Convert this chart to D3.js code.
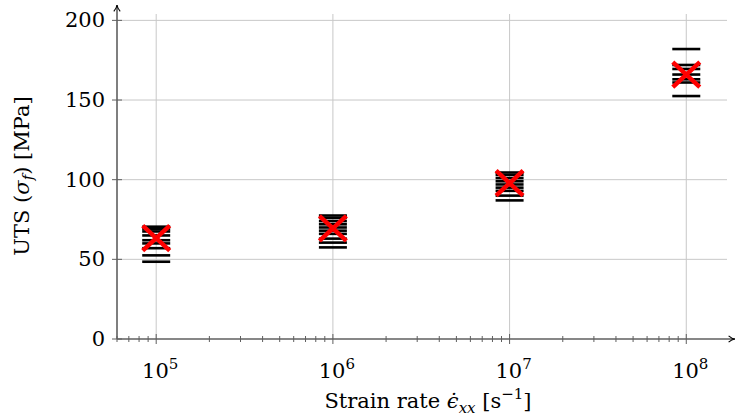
<!DOCTYPE html>
<meta charset="utf-8">
<script src="https://d3js.org/d3.v7.min.js"></script>
<style>
	body{
		margin:0;
		background:#fff;
	}
	text{
		font-family: 'DejaVu Serif', serif;
		font-size:21px;
		fill:#000;
	}
</style>
<div id="chart"></div>
<script>
	// strain rates (s^-1) and the UTS of every run at each rate (MPa)
	var rates = [1e5, 1e6, 1e7, 1e8]
	var utsRate5 = [70.5, 69, 67.5, 65, 62, 60, 57, 52.5, 48.5]
	var utsRate6 = [77.5, 76, 74, 72, 70, 68, 66, 63, 60.5, 57.5]
	var utsRate7 = [104.5, 103, 101, 99, 97, 95, 93, 90, 87]
	var utsRate8 = [182, 172, 169.5, 166, 163, 161, 152.5]
	var meanUts = [63.3, 69.5, 97.8, 166]
	var yTicks = [0, 50, 100, 150, 200]

	var runs = [utsRate5, utsRate6, utsRate7, utsRate8]

	var w = 735
	var h = 417
	var svg = d3.select("#chart").append("svg").attr("width",w).attr("height",h)

	var x = d3.scaleLog().domain([6e4, 1.7e8]).range([117, 727])
	var y = d3.scaleLinear().domain([0, 204]).range([339, 14])

	var axisColor = "#5f5f5f"
	var gridColor = "#c8c8c8"

	// grid
	svg.append("g").selectAll("line").data(rates).join("line")
		.attr("x1",d=>x(d)).attr("x2",d=>x(d))
		.attr("y1",y(0)).attr("y2",y.range()[1])
		.attr("stroke",gridColor).attr("stroke-width",1)
	svg.append("g").selectAll("line").data(yTicks.slice(1)).join("line")
		.attr("x1",x.range()[0]).attr("x2",x.range()[1])
		.attr("y1",d=>y(d)).attr("y2",d=>y(d))
		.attr("stroke",gridColor).attr("stroke-width",1)

	// arrow heads
	var defs = svg.append("defs")
	defs.append("marker").attr("id","arrow")
		.attr("viewBox","0 0 10 10").attr("refX",9).attr("refY",5)
		.attr("markerWidth",8).attr("markerHeight",8)
		.attr("markerUnits","userSpaceOnUse")
		.attr("orient","auto")
		.append("path").attr("d","M1,1 Q5,4.5 9,5 Q5,5.5 1,9")
		.attr("fill","none").attr("stroke","#000").attr("stroke-width",1.4)

	// x minor + major ticks
	var minor = []
	for(var k=4;k<=8;k++){
		for(var m=1;m<=9;m++){
			var v = m*Math.pow(10,k)
			if(v>=x.domain()[0] && v<=x.domain()[1]) minor.push(v)
		}
	}
	svg.append("g").selectAll("line").data(minor).join("line")
		.attr("x1",d=>x(d)).attr("x2",d=>x(d))
		.attr("y1",d=>rates.indexOf(d)>=0 ? y(0)-5 : y(0)-3)
		.attr("y2",d=>rates.indexOf(d)>=0 ? y(0)+5 : y(0)+3)
		.attr("stroke",axisColor).attr("stroke-width",1)

	svg.append("g").selectAll("line").data(yTicks).join("line")
		.attr("x1",x.range()[0]-5).attr("x2",x.range()[0]+5)
		.attr("y1",d=>y(d)).attr("y2",d=>y(d))
		.attr("stroke",axisColor).attr("stroke-width",1)

	// axis lines
	svg.append("line").attr("x1",x.range()[0]).attr("x2",735)
		.attr("y1",y(0)).attr("y2",y(0))
		.attr("stroke",axisColor).attr("stroke-width",1.6)
		.attr("marker-end","url(#arrow)")
	svg.append("line").attr("x1",x.range()[0]).attr("x2",x.range()[0])
		.attr("y1",y(0)).attr("y2",5)
		.attr("stroke",axisColor).attr("stroke-width",1.6)
		.attr("marker-end","url(#arrow)")

	// tick labels
	svg.append("g").selectAll("text").data(yTicks).join("text")
		.attr("x",105).attr("y",d=>y(d)+7)
		.attr("text-anchor","end")
		.text(d=>d)

	var xl = svg.append("g").selectAll("text").data(rates).join("text")
		.attr("x",d=>x(d)+4).attr("y",378)
		.attr("text-anchor","middle")
	xl.append("tspan").text("10")
	xl.append("tspan").attr("dy",-9).style("font-size","15px").text(d=>Math.round(Math.log10(d)))

	// data: one dash per run
	runs.forEach(function(vals,i){
		svg.append("g").selectAll("line").data(vals).join("line")
			.attr("x1",x(rates[i])-14).attr("x2",x(rates[i])+14)
			.attr("y1",d=>y(d)).attr("y2",d=>y(d))
			.attr("stroke","#000").attr("stroke-width",2.6)
	})

	// mean as red cross
	var crosses = svg.append("g").selectAll("g").data(meanUts).join("g")
		.attr("transform",(d,i)=>"translate("+x(rates[i])+","+y(d)+")")
	crosses.append("line").attr("x1",-13.5).attr("y1",-12.5).attr("x2",13.5).attr("y2",12.5)
		.attr("stroke","#ff0000").attr("stroke-width",4.4)
	crosses.append("line").attr("x1",-13.5).attr("y1",12.5).attr("x2",13.5).attr("y2",-12.5)
		.attr("stroke","#ff0000").attr("stroke-width",4.4)

	// axis titles
	var xt = svg.append("text").attr("x",428).attr("y",408).attr("text-anchor","middle")
	xt.append("tspan").text("Strain rate ")
	xt.append("tspan").style("font-style","italic").text("\u03F5\u0307")
	xt.append("tspan").attr("dy",5).style("font-style","italic").style("font-size","15px").text("xx")
	xt.append("tspan").attr("dy",-5).text(" [s")
	xt.append("tspan").attr("dy",-9).style("font-size","15px").text("\u22121")
	xt.append("tspan").attr("dy",9).text("]")

	var yt = svg.append("text").attr("transform","translate(29,176) rotate(-90)").attr("text-anchor","middle")
	yt.append("tspan").text("UTS (")
	yt.append("tspan").style("font-style","italic").text("\u03C3")
	yt.append("tspan").attr("dy",4).style("font-style","italic").style("font-size","15px").text("f")
	yt.append("tspan").attr("dy",-4).text(") [MPa]")
</script>
